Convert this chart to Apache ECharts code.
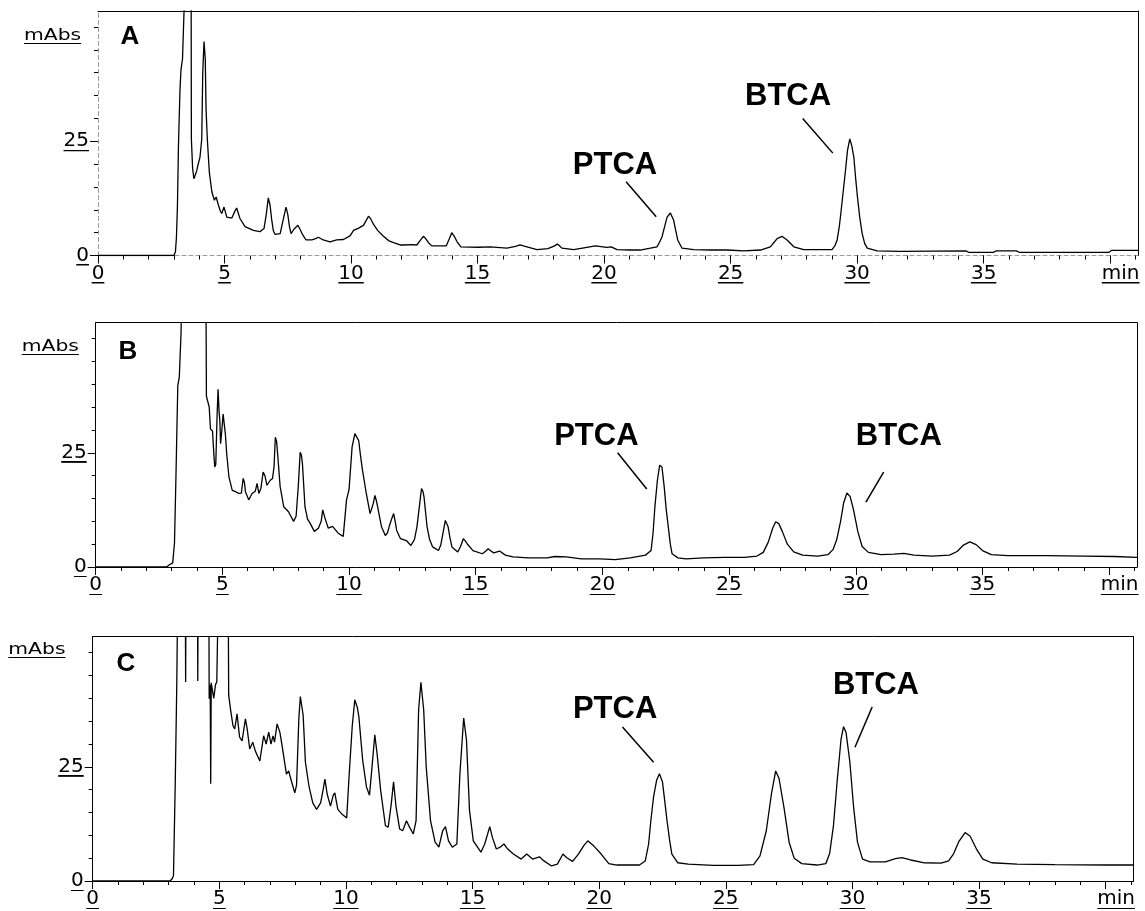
<!DOCTYPE html>
<html>
<head>
<meta charset="utf-8">
<title>Chromatograms A, B, C</title>
<script src="https://cdn.jsdelivr.net/npm/echarts@6/dist/echarts.min.js"></script>
<style>
  html, body { margin: 0; padding: 0; background: #fff; }
  #chart { width: 1145px; height: 911px; }
</style>
</head>
<body>
<div id="chart"></div>
<script>
// Retention time (min) vs absorbance (mAbs) for the three runs.
const runA = [
  [0,0],[3.0,0],[3.06,0.8],[3.1,4],[3.14,11],[3.18,24],[3.24,36.3],[3.28,40.7],[3.34,43],[3.4,53.5],[3.45,75],[3.64,75],[3.68,60],[3.69,25.5],
  [3.74,19],[3.79,16.8],[3.84,16.4],[3.9,18.5],[3.95,19.8],[4.03,21.5],[4.1,25.5],[4.14,40],[4.19,46.8],[4.24,42.9],[4.27,32],[4.32,25.5],
  [4.4,18.2],[4.5,13.9],[4.6,12.1],[4.67,12.8],[4.76,11],[4.83,9.8],[4.89,9.2],[4.98,10.6],[5.09,8.4],[5.29,8.2],[5.4,9.6],[5.48,10.4],
  [5.61,8.1],[5.81,6.3],[6.14,5.5],[6.4,5.2],[6.56,5.9],[6.65,9],[6.73,12.6],[6.8,11],[6.86,8],[6.93,5.4],[7.0,4.6],[7.2,4.8],[7.33,8.1],
  [7.43,10.6],[7.5,9],[7.57,6.2],[7.63,4.8],[7.75,5.8],[7.9,6.6],[7.98,5.8],[8.08,4.6],[8.22,3.4],[8.45,3.4],[8.6,3.7],[8.71,4.0],[8.9,3.4],
  [9.17,3.0],[9.43,3.4],[9.7,3.5],[9.96,4.3],[10.1,5.5],[10.3,6.0],[10.49,6.6],[10.6,7.7],[10.69,8.6],[10.78,8.0],[10.89,6.8],[11.05,5.5],
  [11.28,4.2],[11.5,3.2],[11.68,2.8],[11.94,2.3],[12.07,2.3],[12.4,2.4],[12.6,2.3],[12.75,3.4],[12.86,4.2],[12.95,3.7],[13.06,2.8],[13.19,2.1],
  [13.76,2.1],[13.88,3.6],[13.98,5.0],[14.08,4.2],[14.18,3.1],[14.34,1.9],[15.04,1.8],[15.5,1.9],[16.16,1.6],[16.5,2.0],[16.68,2.3],[16.95,1.9],
  [17.35,1.3],[17.78,1.5],[18.0,2.0],[18.16,2.5],[18.34,1.6],[18.8,1.3],[19.32,1.8],[19.65,2.1],[20.11,1.8],[20.28,1.9],[20.51,1.3],[21.04,1.2],
  [21.43,1.2],[21.83,1.6],[22.09,1.9],[22.2,3.0],[22.29,4.1],[22.4,6.5],[22.49,8.4],[22.62,9.3],[22.75,7.7],[22.83,5.5],[22.91,3.4],[23.08,1.6],
  [23.54,1.3],[24.2,1.2],[24.86,1.2],[25.52,1.0],[26.18,1.2],[26.57,1.9],[26.72,2.9],[26.84,3.7],[27.03,4.2],[27.23,3.4],[27.5,1.9],[27.89,1.3],
  [29.01,1.3],[29.13,2.2],[29.21,3.4],[29.3,6.5],[29.37,9.9],[29.45,14],[29.54,18.6],[29.62,23],[29.71,25.5],[29.79,24],[29.87,21.5],[29.94,17],
  [30.0,13.5],[30.1,8.5],[30.2,4.8],[30.3,2.6],[30.4,1.6],[30.79,1.0],[31.71,0.9],[34.3,1.0],[34.4,0.7],[35.4,0.7],[35.5,1.0],[36.3,1.0],
  [36.4,0.7],[39.95,0.7],[40.05,1.1],[41.1,1.1]
];

const runB = [
  [0,0],[2.8,0],[2.91,0.5],[3.04,0.9],[3.11,5.3],[3.17,20.5],[3.24,39.7],[3.3,41.6],[3.37,51.5],[3.42,75],[4.34,75],[4.37,37.4],[4.48,35],
  [4.53,30.2],[4.61,29.8],[4.66,25],[4.70,21.9],[4.74,22.5],[4.79,33],[4.83,38.9],[4.87,34],[4.90,32],[4.93,27],[4.98,30],[5.03,33.5],[5.07,33.8],
  [5.12,29],[5.17,24.8],[5.26,19.7],[5.39,16.8],[5.52,16.5],[5.65,16.1],[5.75,16.2],[5.82,19.4],[5.87,18.5],[5.91,16.5],[6.04,14.7],[6.17,16.1],
  [6.3,16.6],[6.37,18.3],[6.44,16.1],[6.52,17.2],[6.61,20.8],[6.68,20],[6.76,17.9],[6.89,19],[6.98,19.4],[7.04,22],[7.09,28.4],[7.14,27.5],
  [7.19,24.1],[7.28,17.6],[7.42,13.2],[7.61,12.1],[7.81,10],[7.91,11.1],[8.0,18],[8.07,25.1],[8.12,24.5],[8.16,22.6],[8.26,13.2],[8.36,10.5],
  [8.46,9.6],[8.63,7.8],[8.79,8.5],[8.9,10],[8.96,12.5],[9.05,10.7],[9.18,8.5],[9.35,8.9],[9.57,7.4],[9.77,6.7],[9.9,14.7],[10.0,17],
  [10.12,26.3],[10.23,29.2],[10.3,28.5],[10.38,27.7],[10.45,24.5],[10.53,21.2],[10.68,16.1],[10.83,11.7],[10.9,12],[10.96,14],[11.02,15.7],
  [11.08,14.5],[11.13,13.1],[11.28,8.8],[11.43,6.9],[11.52,7.5],[11.58,8.8],[11.68,10.5],[11.76,11.7],[11.82,10],[11.88,8],[12.03,6.2],
  [12.26,5.8],[12.44,4.7],[12.58,6],[12.68,8.8],[12.78,13.5],[12.86,17.2],[12.92,16.5],[12.96,15.3],[13.02,12],[13.08,8.8],[13.18,6],[13.3,4.4],
  [13.53,3.6],[13.62,4.8],[13.68,6.6],[13.8,10.2],[13.86,9.8],[13.91,8.8],[13.98,6.5],[14.06,4.4],[14.29,3.3],[14.4,4.5],[14.51,6.2],[14.6,5.6],
  [14.66,5.1],[14.89,3.6],[15.26,2.9],[15.4,3.5],[15.49,4.0],[15.6,3.5],[15.71,3.1],[15.94,3.5],[16.17,2.6],[16.47,2.2],[17.07,2.0],[17.82,2.0],
  [18.12,2.3],[18.57,2.2],[19.17,1.8],[19.9,1.8],[20.5,1.6],[21.1,2.0],[21.7,2.6],[21.92,3.6],[22.0,7.5],[22.07,13.1],[22.17,19],[22.26,22.3],
  [22.35,21.9],[22.44,17.5],[22.52,12.5],[22.6,8.8],[22.68,5],[22.75,2.9],[22.98,2.0],[23.3,1.8],[24.0,2.0],[24.8,2.1],[25.6,2.1],[26.1,2.4],
  [26.35,3.2],[26.55,5.5],[26.72,8.5],[26.84,9.9],[26.96,9.5],[27.1,7.8],[27.3,5],[27.55,3.3],[27.9,2.6],[28.5,2.4],[28.9,2.7],[29.1,3.8],
  [29.25,6],[29.4,10],[29.52,14],[29.65,16.2],[29.78,15.4],[29.92,12.3],[30.08,7.8],[30.25,4.5],[30.5,3.2],[31.0,2.7],[31.5,2.8],[31.9,3.0],
  [32.3,2.6],[33.0,2.4],[33.7,2.6],[34.0,3.4],[34.25,4.8],[34.5,5.5],[34.75,4.9],[35.0,3.6],[35.35,2.7],[36.0,2.5],[37.5,2.5],[39.0,2.4],
  [40.2,2.3],[41.1,2.1]
];

const runC = [
  [0,0],[3.06,0],[3.15,0.6],[3.19,1.2],[3.26,21.5],[3.32,42.9],[3.38,75],[3.65,75],[3.67,43.6],[3.69,75],[4.13,75],[4.15,43.8],[4.17,75],
  [4.58,75],[4.6,39.9],[4.64,43],[4.66,21.3],[4.68,43.4],[4.73,43.2],[4.78,40],[4.85,43],[4.9,43.6],[4.95,60],[5.0,75],[5.34,75],[5.37,40.7],
  [5.44,37.7],[5.54,34],[5.61,33.3],[5.7,36.6],[5.8,31.5],[5.9,30.7],[6.03,35.5],[6.1,33.3],[6.2,28.9],[6.32,30.4],[6.42,28.5],[6.6,26.3],
  [6.75,31.8],[6.85,30],[6.95,32.6],[7.04,30],[7.12,31.8],[7.18,30.4],[7.28,34.4],[7.39,32.6],[7.48,29.6],[7.65,23.4],[7.74,24.1],[7.81,22.6],
  [7.98,19.3],[8.05,21],[8.14,35.5],[8.2,40.4],[8.25,40.7],[8.31,36.3],[8.4,26],[8.54,20.8],[8.69,17.1],[8.84,15.7],[9.0,17.1],[9.1,20],
  [9.17,22.3],[9.26,19],[9.39,16.4],[9.5,18.8],[9.56,19.3],[9.68,15.7],[9.85,14.6],[10.03,13.8],[10.13,23.5],[10.25,34],[10.35,39.7],[10.45,38],
  [10.51,36],[10.66,26.5],[10.81,20.6],[10.93,18.8],[11.03,25],[11.14,32],[11.23,27.9],[11.37,19.9],[11.56,12.1],[11.67,11.8],[11.79,16.9],
  [11.88,21.7],[11.98,16.2],[12.12,11.4],[12.24,11],[12.39,13.2],[12.51,11.8],[12.66,10.3],[12.77,13.2],[12.87,37.5],[12.96,43.5],[13.07,37.5],
  [13.17,25],[13.34,13.2],[13.52,8.5],[13.67,7.4],[13.82,11],[13.93,11.9],[14.05,8.8],[14.2,7.4],[14.38,8.1],[14.5,23.5],[14.65,35.7],[14.76,30.9],
  [14.88,15.4],[15.03,8.8],[15.33,6.3],[15.48,8.1],[15.68,11.9],[15.78,9.6],[15.94,7],[16.09,7.4],[16.24,8.1],[16.39,7],[16.61,5.9],[16.92,4.8],
  [17.14,5.9],[17.37,4.8],[17.64,5.3],[17.82,4.4],[18.12,3.3],[18.35,3.7],[18.57,5.9],[18.72,5.1],[18.95,4.3],[19.18,5.9],[19.4,7.8],[19.55,8.8],
  [19.78,7.7],[20.08,5.9],[20.38,3.8],[20.69,3.5],[21.59,3.5],[21.82,4.4],[21.95,8],[22.04,13.2],[22.15,18.5],[22.27,22.1],[22.38,23.5],[22.5,21.7],
  [22.6,17],[22.68,13.2],[22.78,9],[22.87,5.9],[23.1,4],[23.52,3.7],[24.5,3.4],[25.5,3.4],[26.1,3.6],[26.35,5.5],[26.6,11],[26.8,19],[26.97,24.1],
  [27.1,22.5],[27.3,16],[27.5,8.5],[27.7,5],[28.0,3.8],[28.6,3.5],[28.95,3.8],[29.1,6],[29.25,12],[29.4,22],[29.55,31],[29.65,33.8],[29.75,32.5],
  [29.9,26],[30.05,16],[30.2,8.5],[30.4,4.8],[30.7,4.2],[31.3,4.2],[31.7,4.9],[31.95,5.1],[32.3,4.6],[32.8,4.0],[33.5,3.9],[33.8,4.4],[34.0,6],
  [34.2,8.6],[34.45,10.6],[34.65,9.8],[34.9,7],[35.15,4.8],[35.5,4.0],[36.5,3.7],[38,3.6],[40,3.5],[41.1,3.5]
];

const runs = [runA, runB, runC];
const panelNames = ['A', 'B', 'C'];
const peakNames = ['PTCA', 'BTCA'];

// Axis ticks and their labels
const xMajorTicks = [0, 5, 10, 15, 20, 25, 30, 35, 40];
const xTickLabels = ['0', '5', '10', '15', '20', '25', '30', '35', 'min'];
const yMajorTicks = [0, 25];
const yTickLabels = ['0', '25'];
const yUnit = 'mAbs';

// ---- layout & styling ----
const X_MAX = 41.1, Y_MAX = 53.5;
const frames = [
  { left: 98,   top: 11,    width: 1040,   height: 244.5 },
  { left: 95.7, top: 322.7, width: 1041.3, height: 244.3 },
  { left: 92.7, top: 636.7, width: 1040.8, height: 244.3 }
];
// Peak captions: [text centre, leader start, leader end] in (min, mAbs)
const captions = [
  [[[20.43, 19.8], [20.87, 16.15], [22.06, 8.5]], [[27.27, 34.8], [27.85, 30.0], [29.04, 22.4]]],
  [[[19.76, 28.5], [20.6, 25.0],  [21.75, 17.1]], [[31.7, 28.5],  [31.1, 20.8],  [30.4, 14.2]]],
  [[[20.63, 37.5], [20.92, 33.7], [22.15, 26.0]], [[30.93, 42.9], [30.78, 38.1], [30.1, 29.3]]]
];
const unitPos = [[24, 28], [21.7, 339], [8.3, 642]];
const letterPos = [[130, 37], [128, 352], [126, 664]];
const leftAxisStyle = [
  { color: '#9a9a9a', width: 1, type: [4, 3] },
  { color: '#000', width: 1, type: 'solid' },
  { color: '#000', width: 1, type: 'solid' }
];

const LABEL_FONT = 'DejaVu Sans';
const underline = new echarts.graphic.LinearGradient(0, 0, 0, 1, [
  { offset: 0, color: 'rgba(0,0,0,0)' },
  { offset: 0.93, color: 'rgba(0,0,0,0)' },
  { offset: 0.93, color: '#000' },
  { offset: 1, color: '#000' }
]);
const richLabel = {
  u: { fontFamily: LABEL_FONT, fontSize: 20, lineHeight: 20, color: '#000', backgroundColor: underline, padding: 0 },
  gap: { width: 21 }
};

const xMinorTicks = [];
for (let t = 1; t <= 41; t++) xMinorTicks.push(t);
const yMinorTicks = [];
for (let v = 5; v <= 50; v += 5) yMinorTicks.push(v);

const grids = [], xAxes = [], yAxes = [], series = [], graphics = [];

frames.forEach((f, p) => {
  // main grid (trace + short ticks) and an overlay grid on the same frame (long ticks, labels, top/right border)
  grids.push({ left: f.left, top: f.top, width: f.width, height: f.height, containLabel: false });
  grids.push({ left: f.left, top: f.top, width: f.width, height: f.height, containLabel: false });
  const gMain = 2 * p, gOver = 2 * p + 1;

  xAxes.push({
    type: 'value', gridIndex: gMain, min: 0, max: X_MAX, position: 'bottom',
    axisLine: { show: true, onZero: false, lineStyle: leftAxisStyle[p] },
    axisTick: { show: true, customValues: xMinorTicks, length: 4, lineStyle: { color: '#000', width: 1 } },
    axisLabel: { show: false }, splitLine: { show: false }
  });
  xAxes.push({
    type: 'value', gridIndex: gOver, min: 0, max: X_MAX, position: 'bottom',
    axisLine: { show: false, onZero: false },
    axisTick: { show: true, customValues: xMajorTicks, length: 8, lineStyle: { color: '#000', width: 1 } },
    axisLabel: {
      show: true, customValues: xMajorTicks, margin: 8,
      formatter: (v) => {
        const s = xTickLabels[xMajorTicks.indexOf(v)];
        return s === 'min' ? '{gap|}{u|' + s + '}' : '{u|' + s + '}';
      },
      rich: richLabel
    },
    splitLine: { show: false }
  });
  xAxes.push({
    type: 'value', gridIndex: gOver, min: 0, max: X_MAX, position: 'top',
    axisLine: { show: true, onZero: false, lineStyle: { color: '#000', width: 1 } },
    axisTick: { show: false }, axisLabel: { show: false }, splitLine: { show: false }
  });

  yAxes.push({
    type: 'value', gridIndex: gMain, min: 0, max: Y_MAX, position: 'left',
    axisLine: { show: true, onZero: false, lineStyle: leftAxisStyle[p] },
    axisTick: { show: true, customValues: yMinorTicks, length: 4, lineStyle: { color: '#000', width: 1 } },
    axisLabel: { show: false }, splitLine: { show: false }
  });
  yAxes.push({
    type: 'value', gridIndex: gOver, min: 0, max: Y_MAX, position: 'left',
    axisLine: { show: false, onZero: false },
    axisTick: { show: true, customValues: yMajorTicks, length: 8, lineStyle: { color: '#000', width: 1 } },
    axisLabel: {
      show: true, customValues: yMajorTicks, margin: 9,
      formatter: (v) => '{u|' + yTickLabels[yMajorTicks.indexOf(v)] + '}',
      rich: richLabel
    },
    splitLine: { show: false }
  });
  yAxes.push({
    type: 'value', gridIndex: gOver, min: 0, max: Y_MAX, position: 'right',
    axisLine: { show: true, onZero: false, lineStyle: { color: '#000', width: 1 } },
    axisTick: { show: false }, axisLabel: { show: false }, splitLine: { show: false }
  });

  const cap = captions[p];
  series.push({
    type: 'line',
    name: panelNames[p],
    xAxisIndex: 3 * p, yAxisIndex: 3 * p,
    data: runs[p],
    showSymbol: false, symbol: 'none', clip: true, silent: true,
    lineStyle: { color: '#000', width: 1.3 },
    markPoint: {
      silent: true, symbol: 'circle', symbolSize: 1,
      itemStyle: { color: 'rgba(0,0,0,0)' },
      label: {
        show: true, position: 'inside', formatter: '{b}', color: '#000',
        fontFamily: 'Liberation Sans', fontWeight: 'bold', fontSize: 31
      },
      data: peakNames.map((n, i) => ({ name: n, coord: cap[i][0] }))
    },
    markLine: {
      silent: true, symbol: ['none', 'none'], label: { show: false },
      lineStyle: { color: '#000', width: 1.5, type: 'solid' },
      emphasis: { disabled: true },
      data: peakNames.map((n, i) => [{ coord: cap[i][1] }, { coord: cap[i][2] }])
    }
  });

  graphics.push({
    type: 'text', x: unitPos[p][0], y: unitPos[p][1], scaleX: 1.27,
    style: { text: yUnit, fontFamily: LABEL_FONT, fontSize: 16, lineHeight: 16, fill: '#000', backgroundColor: underline }
  });
  graphics.push({
    type: 'text', x: letterPos[p][0], y: letterPos[p][1],
    style: { text: panelNames[p], fontFamily: 'Liberation Sans', fontWeight: 'bold', fontSize: 26, fill: '#000', align: 'center', verticalAlign: 'middle' }
  });
});

const chart = echarts.init(document.getElementById('chart'), null, { renderer: 'canvas' });
chart.setOption({
  animation: false,
  backgroundColor: '#fff',
  grid: grids,
  xAxis: xAxes,
  yAxis: yAxes,
  series: series,
  graphic: graphics
});
</script>
</body>
</html>
